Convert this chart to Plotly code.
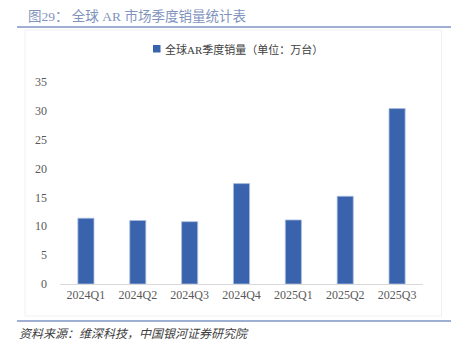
import plotly.graph_objects as go

# Quarterly global AR shipments (10k units)
quarters = ["2024Q1", "2024Q2", "2024Q3", "2024Q4", "2025Q1", "2025Q2", "2025Q3"]
sales = [11.4, 11.0, 10.8, 17.4, 11.1, 15.2, 30.4]
y_ticks = [0, 5, 10, 15, 20, 25, 30, 35]
series_name = "全球AR季度销量（单位：万台）"
bar_color = "#3a63ad"

W, H = 462, 348
L, R, T, B = 60, 423, 82, 284  # plot area in pixels


def px(x):
    return (x - L) / (R - L)


def py(y):
    return (B - y) / (B - T)


font_main = "Liberation Serif, Noto Sans CJK SC, serif"

fig = go.Figure()
fig.add_trace(go.Bar(
    x=quarters, y=sales,
    name=series_name, showlegend=False,
    marker=dict(color=bar_color, line=dict(color="#a9bde0", width=0.8)),
    width=0.31,
))

fig.update_layout(
    width=W, height=H,
    margin=dict(l=L, r=W - R, t=T, b=H - B),
    paper_bgcolor="white", plot_bgcolor="white",
    font=dict(family=font_main, size=12, color="#555555"),
    showlegend=False,
    title=dict(text="图29： 全球 AR 市场季度销量统计表", xref="container", yref="container",
               x=28 / W, xanchor="left", y=1 - 16 / H, yanchor="middle",
               font=dict(size=13.5, color="#8093bd", family=font_main)),
    xaxis=dict(showgrid=False, showline=True, linecolor="#d9d9d9", linewidth=1,
               ticks="", tickfont=dict(size=12, color="#595959")),
    yaxis=dict(range=[0, 35], tickvals=y_ticks, showgrid=False, zeroline=False,
               showline=False, ticks="", ticklabelstandoff=12,
               tickfont=dict(size=12, color="#595959")),
)

# Series key: small square plus label
fig.add_shape(type="rect", xref="paper", yref="paper", x0=px(153), x1=px(160.5),
              y0=py(52.5), y1=py(45), line=dict(width=0), fillcolor=bar_color)
fig.add_annotation(text=series_name, xref="paper", yref="paper",
                   x=px(162.5), y=py(49), xanchor="left", yanchor="middle", showarrow=False,
                   font=dict(size=11, color="#404040", family=font_main))

# Rule under the title
fig.add_shape(type="line", xref="paper", yref="paper", x0=px(17), x1=px(451),
              y0=py(27), y1=py(27), line=dict(color="#7f95c4", width=1.5))

# Light chart frame
fig.add_shape(type="rect", xref="paper", yref="paper", x0=px(25), x1=px(441.5),
              y0=py(316), y1=py(30), line=dict(color="#f0f0f0", width=1))

# Footer rule and source
fig.add_shape(type="line", xref="paper", yref="paper", x0=px(17), x1=px(451),
              y0=py(321), y1=py(321), line=dict(color="#7f95c4", width=1.5))
fig.add_annotation(text="<i>资料来源：维深科技，中国银河证券研究院</i>", xref="paper", yref="paper",
                   x=px(17), y=py(334), xanchor="left", yanchor="middle", showarrow=False,
                   font=dict(size=12, color="#404040", family=font_main))

fig.write_html("out.html")
